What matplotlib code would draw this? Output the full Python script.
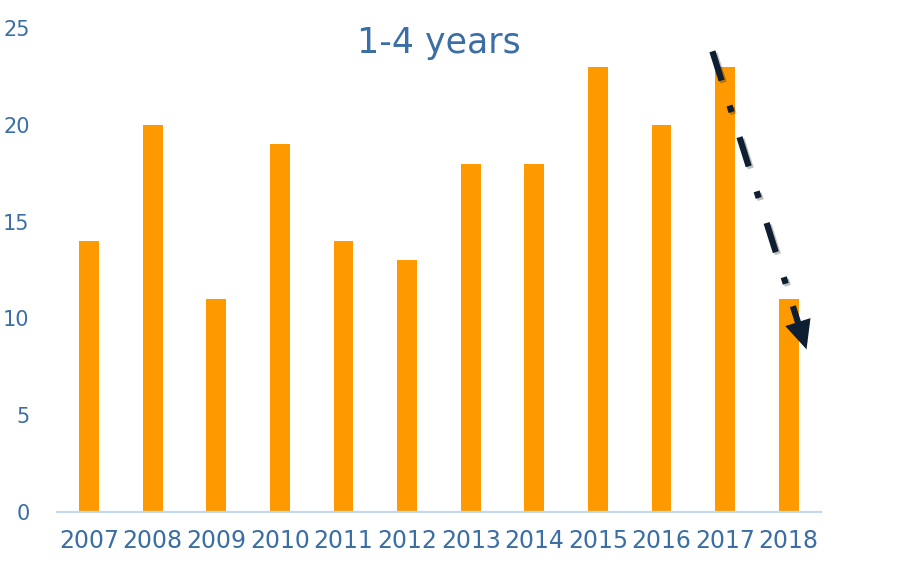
import matplotlib.pyplot as plt
import matplotlib.patheffects as pe
import numpy as np

years = ['2007', '2008', '2009', '2010', '2011', '2012', '2013', '2014', '2015', '2016', '2017', '2018']
values = [14, 20, 11, 19, 14, 13, 18, 18, 23, 20, 23, 11]

txt = '#3a6ea5'
fig = plt.figure(figsize=(9.24, 5.62), dpi=100)
ax = fig.add_axes([0.062, 0.089, 0.826, 0.861])

x = np.arange(len(years))
ax.bar(x, values, width=0.31, color='#ff9900')
ax.set_xlim(-0.5, len(years) - 0.5)
ax.set_ylim(0, 25)
ax.set_yticks([0, 5, 10, 15, 20, 25])
ax.set_xticks(x)
ax.set_xticklabels(years, fontsize=17, color=txt)
for lab in ax.get_yticklabels():
    lab.set_fontsize(15)
    lab.set_color(txt)
ax.tick_params(length=0)
ax.tick_params(axis='y', pad=20)
ax.tick_params(axis='x', pad=12)
for s in ['top', 'right', 'left']:
    ax.spines[s].set_visible(False)
ax.spines['bottom'].set_color('#c5d9ee')
ax.spines['bottom'].set_linewidth(1.6)

ax.text(0.5, 0.97, '1-4 years', transform=ax.transAxes, ha='center', va='center',
        fontsize=25, color=txt)

# trend arrow: dash-dot shaft plus solid last dash with head
x0, y0, x1, y1 = 9.8, 23.8, 11.28, 8.4
t = 0.81
ax.plot([x0, x0 + t * (x1 - x0)], [y0, y0 + t * (y1 - y0)], color='#0f1f33', lw=4.5,
        dashes=(4.9, 4.2, 1.1, 4.2), dash_capstyle='butt',
        path_effects=[pe.SimpleLineShadow(offset=(1.5, -1.5), alpha=0.25), pe.Normal()])
t2 = 0.855
ax.annotate('', xy=(x1, y1), xytext=(x0 + t2 * (x1 - x0), y0 + t2 * (y1 - y0)),
            arrowprops=dict(arrowstyle='-|>,head_length=1.3,head_width=0.6', color='#0f1f33',
                            lw=4.5, shrinkA=0, shrinkB=0, joinstyle='miter', capstyle='butt',
                            path_effects=[pe.SimplePatchShadow(offset=(1.5, -1.5), alpha=0.25), pe.Normal()]))

plt.savefig('out.png', dpi=100)
